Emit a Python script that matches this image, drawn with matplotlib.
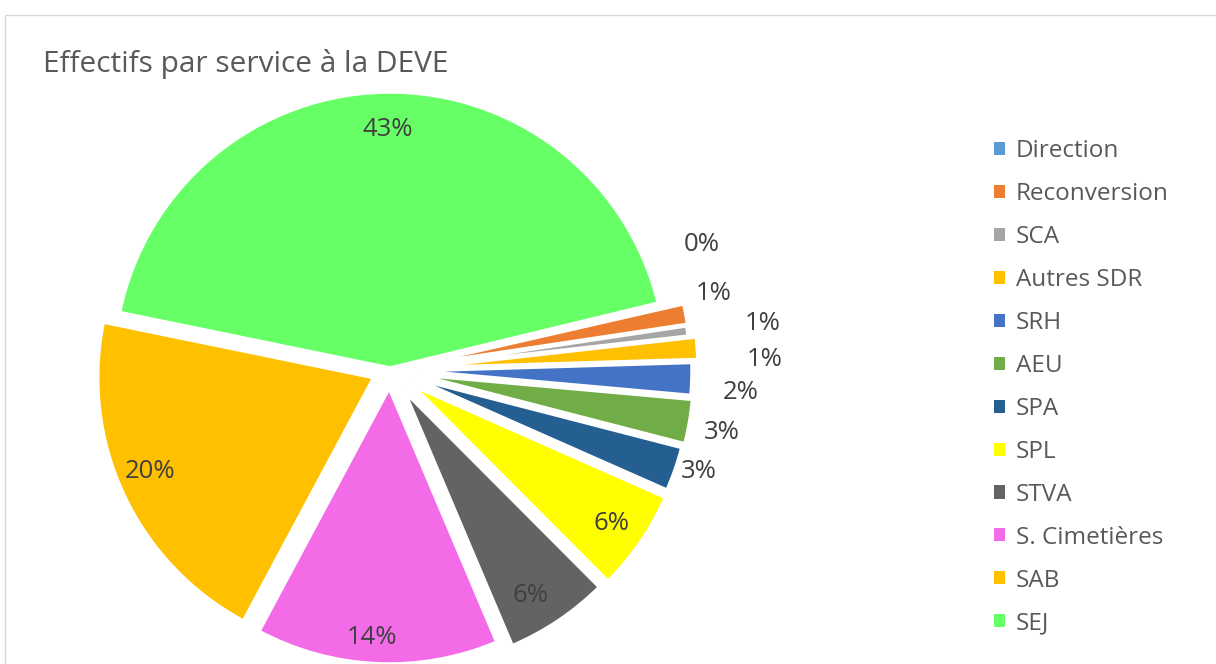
import numpy as np
import matplotlib.pyplot as plt
from matplotlib.patches import Patch, Rectangle

plt.rcParams['font.family'] = ['Open Sans', 'DejaVu Sans']

# data (share of staff, %)
services = ['Direction', 'Reconversion', 'SCA', 'Autres SDR', 'SRH', 'AEU',
            'SPA', 'SPL', 'STVA', 'S. Cimetières', 'SAB', 'SEJ']
shares = [0.2, 1.2, 0.6, 1.3, 1.9, 2.6, 2.6, 5.9, 6.1, 14.2, 20.4, 43.0]
pct_labels = ['0%', '1%', '1%', '1%', '2%', '3%', '3%', '6%', '6%', '14%', '20%', '43%']
colors = ['#5B9BD5', '#ED7D31', '#A5A5A5', '#FFC000', '#4472C4', '#70AD47',
          '#255E91', '#FFFF00', '#636363', '#F46BE8', '#FFC000', '#66FF66']

# styling / layout (pixels)
W, H = 1216, 664
R = 276
cx, cy = 390, H - 370
explode_px = [25, 25, 24, 32, 26, 28, 26, 28, 26, 18, 18, 2]
lab_r = [1.218, 1.206, 1.362, 1.359, 1.274, 1.224, 1.179, 0.976, 0.962, 0.973, 0.945, 0.87]
lab_shift = [8.6, 2.5, -0.45, -2.5, -1.9, -0.8, 0.9, -0.4, -1.9, -1.2, -2.1, -0.5]

fig = plt.figure(figsize=(W / 100, H / 100), dpi=100)
ax = fig.add_axes([0, 0, 1, 1])

# pie explode is in data units, so pixels here
wedges, _ = ax.pie(shares, colors=colors, startangle=13.6, counterclock=False,
                   radius=R, center=(cx, cy), explode=explode_px,
                   wedgeprops=dict(edgecolor='white', linewidth=2.5))
ax.set_xlim(0, W)
ax.set_ylim(0, H)
ax.set_aspect('equal')
ax.axis('off')

for w, txt, rr, sh in zip(wedges, pct_labels, lab_r, lab_shift):
    mid = np.deg2rad((w.theta1 + w.theta2) / 2 + sh)
    ax.text(cx + rr * R * np.cos(mid), cy + rr * R * np.sin(mid), txt,
            ha='center', va='center', fontsize=18.5, color='#404040')

fig.text(43 / W, 1 - 72 / H, 'Effectifs par service à la DEVE',
         fontsize=21.5, color='#595959', va='baseline', ha='left')

handles = [Patch(facecolor=c, edgecolor='none') for c in colors]
ax.legend(handles, services, loc='upper left', bbox_to_anchor=(994 / W, 1 - 139 / H),
          bbox_transform=fig.transFigure, frameon=False, fontsize=17.5,
          handlelength=0.45, handleheight=0.45, handletextpad=0.45,
          labelspacing=0.78, borderpad=0, borderaxespad=0, labelcolor='#595959')

fig.add_artist(Rectangle((5 / W, -0.1), 1.2, (H - 15) / H + 0.1, transform=fig.transFigure,
                         fill=False, edgecolor='#D9D9D9', linewidth=1))

fig.savefig('out.png', dpi=100)
